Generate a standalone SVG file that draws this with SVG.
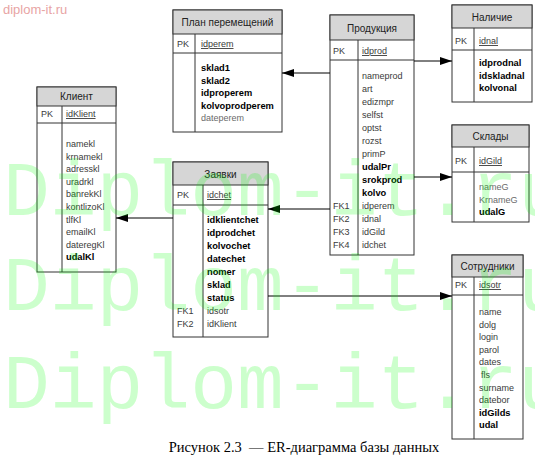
<svg xmlns="http://www.w3.org/2000/svg" width="535" height="460" viewBox="0 0 535 460">
<style>
text{font-family:"Liberation Sans",Arial,sans-serif;font-size:9px;fill:#3a3a3a}
.h{font-size:10px;text-anchor:middle;fill:#222}
.b{font-weight:bold;font-size:9.3px;fill:#000}
.u{text-decoration:underline}
.g{fill:#6a6a6a}
.box{fill:#fff;stroke:#333;stroke-width:1}
.hd{fill:#d6d6d6;stroke:#333;stroke-width:1}
.ln{stroke:#333;stroke-width:1;fill:none}
.con{stroke:#000;stroke-width:1;fill:none;marker-end:url(#ah)}
.wm{font-family:"Liberation Mono","Courier New",monospace;font-size:78px;fill:#00ff00;fill-opacity:0.2}
</style>
<defs>
<marker id="ah" viewBox="0 0 12 8" refX="12" refY="4" markerWidth="12" markerHeight="8" markerUnits="userSpaceOnUse" orient="auto">
<path d="M0,0 L12,4 L0,8 Z" fill="#000"/>
</marker>
</defs>
<rect width="535" height="460" fill="#fff"/>
<text x="3" y="14" style="font-size:13px;fill:#e8a4a4">diplom-it.ru</text>

<g id="plan">
<rect class="box" x="173" y="10" width="109" height="122"/>
<rect class="hd" x="173" y="10" width="109" height="24"/>
<line class="ln" x1="173" y1="53" x2="282" y2="53"/>
<line class="ln" x1="195" y1="34" x2="195" y2="132"/>
<text class="h" x="227.5" y="25.5">План перемещений</text>
<text x="177" y="47">PK</text>
<text class="u" x="201" y="47">idperem</text>
<text class="b" x="201" y="71">sklad1</text>
<text class="b" x="201" y="83.5">sklad2</text>
<text class="b" x="201" y="96">idproperem</text>
<text class="b" x="201" y="108.5">kolvoprodperem</text>
<text class="g" x="201" y="121">dateperem</text>
</g>

<g id="prod">
<rect class="box" x="330" y="15" width="84" height="240"/>
<rect class="hd" x="330" y="15" width="84" height="25"/>
<line class="ln" x1="330" y1="60" x2="414" y2="60"/>
<line class="ln" x1="358" y1="40" x2="358" y2="255"/>
<text class="h" x="372" y="31.5">Продукция</text>
<text x="333" y="54">PK</text>
<text class="u" x="362" y="54">idprod</text>
<text x="362" y="79">nameprod</text>
<text x="362" y="92">art</text>
<text x="362" y="105">edizmpr</text>
<text x="362" y="118">selfst</text>
<text x="362" y="131">optst</text>
<text x="362" y="144">rozst</text>
<text x="362" y="157">primP</text>
<text class="b" x="362" y="170">udalPr</text>
<text class="b" x="362" y="183">srokprod</text>
<text class="b" x="362" y="196">kolvo</text>
<text x="333" y="209">FK1</text><text x="362" y="209">idperem</text>
<text x="333" y="222">FK2</text><text x="362" y="222">idnal</text>
<text x="333" y="235">FK3</text><text x="362" y="235">idGild</text>
<text x="333" y="248">FK4</text><text x="362" y="248">idchet</text>
</g>

<g id="nalichie">
<rect class="box" x="452" y="5" width="80" height="97"/>
<rect class="hd" x="452" y="5" width="80" height="23"/>
<line class="ln" x1="452" y1="50" x2="532" y2="50"/>
<line class="ln" x1="474" y1="28" x2="474" y2="102"/>
<text class="h" x="492" y="20.5">Наличие</text>
<text x="455" y="44">PK</text>
<text class="u" x="479" y="44">idnal</text>
<text class="b" x="479" y="66">idprodnal</text>
<text class="b" x="479" y="78.5">idskladnal</text>
<text class="b" x="479" y="91">kolvonal</text>
</g>

<g id="sklady">
<rect class="box" x="452" y="125" width="77" height="97"/>
<rect class="hd" x="452" y="125" width="77" height="22"/>
<line class="ln" x1="452" y1="172" x2="529" y2="172"/>
<line class="ln" x1="474" y1="147" x2="474" y2="222"/>
<text class="h" x="490.5" y="140">Склады</text>
<text x="455" y="164">PK</text>
<text class="u" x="479" y="164">idGild</text>
<text class="g" x="479" y="190">nameG</text>
<text class="g" x="479" y="202.5">KrnameG</text>
<text class="b" x="479" y="215">udalG</text>
</g>

<g id="klient">
<rect class="box" x="37" y="87" width="79" height="185"/>
<rect class="hd" x="37" y="87" width="79" height="19"/>
<line class="ln" x1="37" y1="123" x2="116" y2="123"/>
<line class="ln" x1="62" y1="106" x2="62" y2="272"/>
<text class="h" x="76.5" y="100">Клиент</text>
<text x="41" y="117">PK</text>
<text class="u" x="66" y="117">idKlient</text>
<text x="66" y="147">namekl</text>
<text x="66" y="159.6">krnamekl</text>
<text x="66" y="172.2">adresskl</text>
<text x="66" y="184.8">uradrkl</text>
<text x="66" y="197.4">banrekKl</text>
<text x="66" y="210">kontlizoKl</text>
<text x="66" y="222.6">tlfKl</text>
<text x="66" y="235.2">emailKl</text>
<text x="66" y="247.8">dateregKl</text>
<text class="b" x="66" y="260.4">udalKl</text>
</g>

<g id="zayavki">
<rect class="box" x="173" y="162" width="95" height="175"/>
<rect class="hd" x="173" y="162" width="95" height="23"/>
<line class="ln" x1="173" y1="205" x2="268" y2="205"/>
<line class="ln" x1="203" y1="185" x2="203" y2="337"/>
<text class="h" x="220.5" y="177.5">Заявки</text>
<text x="177" y="198">PK</text>
<text class="u" x="207" y="198">idchet</text>
<text class="b" x="207" y="223">idklientchet</text>
<text class="b" x="207" y="236">idprodchet</text>
<text class="b" x="207" y="249">kolvochet</text>
<text class="b" x="207" y="262">datechet</text>
<text class="b" x="207" y="275">nomer</text>
<text class="b" x="207" y="288">sklad</text>
<text class="b" x="207" y="300.5">status</text>
<text x="177" y="313.5">FK1</text><text x="207" y="313.5">idsotr</text>
<text x="177" y="326.5">FK2</text><text x="207" y="326.5">idKlient</text>
</g>

<g id="sotrudniki">
<rect class="box" x="452" y="255" width="71" height="184"/>
<rect class="hd" x="452" y="255" width="71" height="22"/>
<line class="ln" x1="452" y1="295" x2="523" y2="295"/>
<line class="ln" x1="474" y1="277" x2="474" y2="439"/>
<text class="h" x="487.5" y="270">Сотрудники</text>
<text x="455" y="288">PK</text>
<text class="u" x="479" y="288">idsotr</text>
<text x="479" y="315">name</text>
<text x="479" y="327.6">dolg</text>
<text x="479" y="340.2">login</text>
<text x="479" y="352.8">parol</text>
<text x="479" y="365.4">dates</text>
<text x="481" y="378">fls</text>
<text x="479" y="390.6">surname</text>
<text x="479" y="403.2">datebor</text>
<text class="b" x="479" y="415.8">idGilds</text>
<text class="b" x="479" y="428.4">udal</text>
</g>

<g id="connectors">
<line class="con" x1="330" y1="73" x2="282" y2="73"/>
<line class="con" x1="414" y1="61" x2="452" y2="61"/>
<line class="con" x1="414" y1="177" x2="452" y2="177"/>
<line class="con" x1="330" y1="209" x2="268" y2="209"/>
<line class="con" x1="173" y1="218" x2="116" y2="218"/>
<line class="con" x1="268" y1="296" x2="452" y2="296"/>
</g>

<text class="wm" x="3" y="215">Diplom-it.ru</text>
<text class="wm" x="3" y="310">Diplom-it.ru</text>
<text class="wm" x="3" y="408">Diplom-it.ru</text>

<text x="304" y="452" xml:space="preserve" style="font-family:'Liberation Serif','Times New Roman',serif;font-size:14.5px;fill:#000;text-anchor:middle">Рисунок 2.3  — ER-диаграмма базы данных</text>
</svg>
